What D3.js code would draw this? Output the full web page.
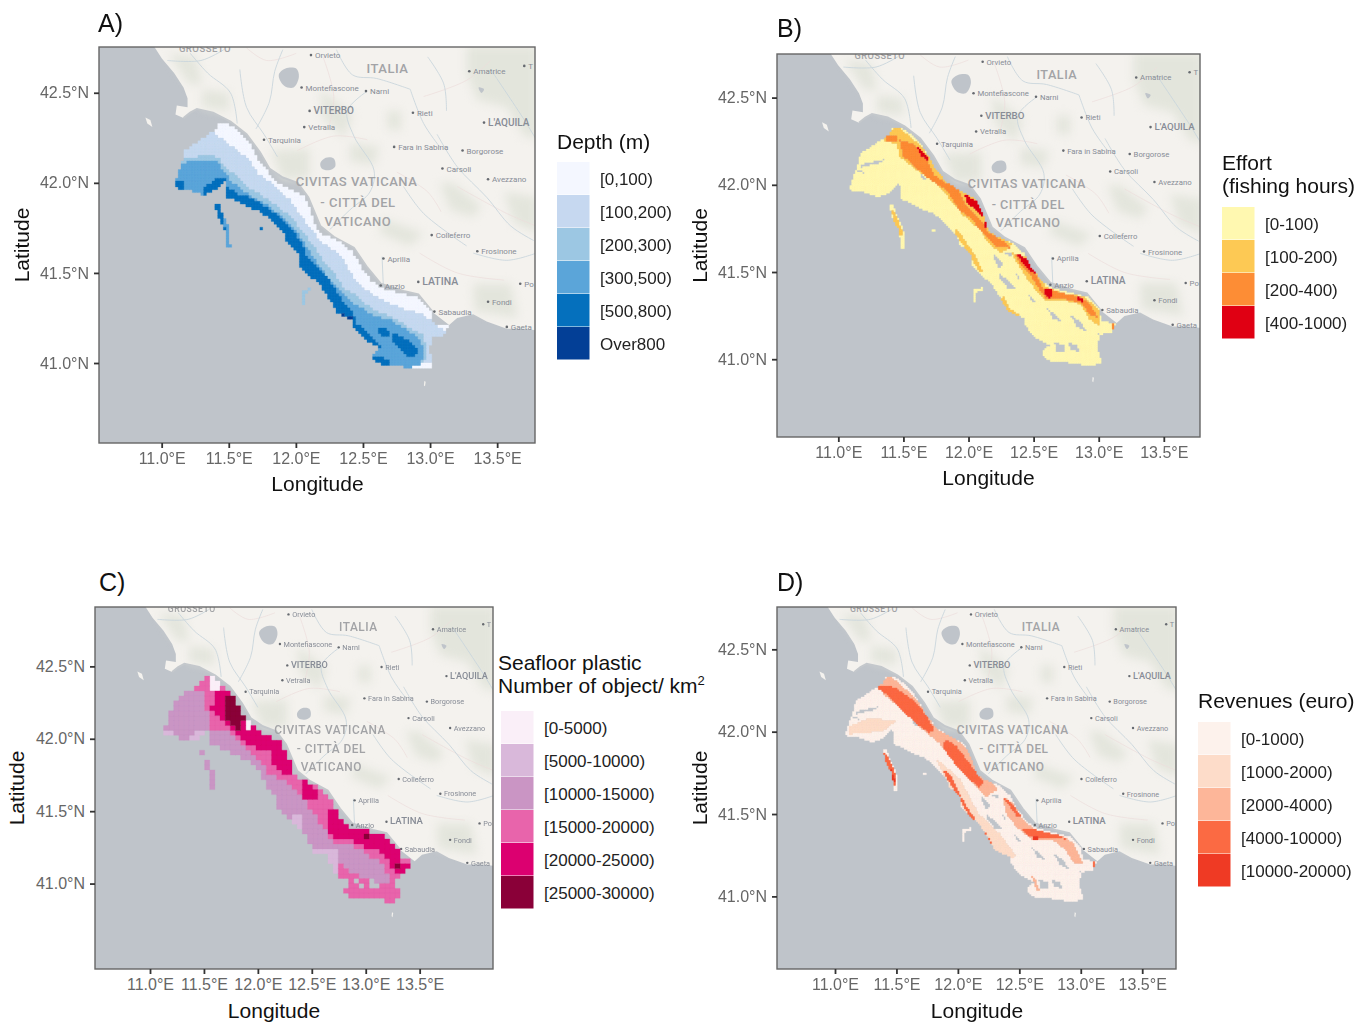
<!DOCTYPE html>
<html>
<head>
<meta charset="utf-8">
<script src="https://d3js.org/d3.v7.min.js"></script>
<style>
html, body { margin: 0; padding: 0; background: #fff; }
svg { display: block; font-family: "Liberation Sans", Arial, sans-serif; }
.tick text { fill: #666; font-size: 16px; }
.tick line { stroke: #333; stroke-width: 1.8; }
.axis-title { font-size: 21px; fill: #111; text-anchor: middle; }
.panel-tag { font-size: 25px; fill: #111; }
.legend-title { font-size: 21px; fill: #111; }
.legend-label { font-size: 17px; fill: #222; }
.map-label { font-family: Roboto, sans-serif; }
</style>
</head>
<body>
<script>

// ---- axis ticks, the same for all four panels
var lonTicks = [11, 11.5, 12, 12.5, 13, 13.5];
var latTicks = [41, 41.5, 42, 42.5];

// ---- legends
var depthLabels = ["[0,100)", "[100,200)", "[200,300)", "[300,500)", "[500,800)", "Over800"];
var depthColors = ["#f4f7ff", "#c6d8f0", "#9cc7e3", "#5ba5d9", "#0570bd", "#033f96"];
var effortLabels = ["[0-100)", "[100-200)", "[200-400)", "[400-1000)"];
var effortColors = ["#fff8b0", "#fdc954", "#fd8d35", "#e00013"];
var plasticLabels = ["[0-5000)", "[5000-10000)", "[10000-15000)", "[15000-20000)", "[20000-25000)", "[25000-30000)"];
var plasticColors = ["#faeff8", "#d9b8da", "#ca95c4", "#e864ab", "#dc0070", "#8a0038"];
var revenueLabels = ["[0-1000)", "[1000-2000)", "[2000-4000)", "[4000-10000)", "[10000-20000)"];
var revenueColors = ["#fdf2ec", "#fddcc9", "#fdb699", "#fb6a43", "#ef3a24"];

// ---- basemap, lon/lat
var mapLon = [10.53, 13.78];
var mapLat = [40.555, 42.755];
var landOutline = [[10.93,42.77],[11.00,42.69],[11.09,42.61],[11.16,42.53],[11.19,42.47],[11.19,42.42],[11.11,42.43],[11.10,42.38],[11.16,42.36],[11.21,42.39],[11.26,42.41],[11.38,42.39],[11.51,42.34],[11.63,42.27],[11.73,42.17],[11.80,42.08],[11.90,42.03],[12.01,42.00],[12.09,41.92],[12.18,41.76],[12.28,41.70],[12.43,41.64],[12.53,41.53],[12.63,41.44],[12.80,41.40],[12.91,41.38],[13.02,41.28],[13.14,41.21],[13.20,41.25],[13.32,41.27],[13.42,41.23],[13.57,41.19],[13.70,41.19],[13.80,41.18],[13.85,41.18],[13.85,42.80],[10.93,42.80]];
var islets = [
  [[10.876,42.363],[10.913,42.349],[10.928,42.31],[10.89,42.33]],
  [[12.955,40.90],[12.965,40.895],[12.96,40.87],[12.952,40.875]]
];
var lakes = [
  [[11.87,42.60],[11.92,42.635],[12.00,42.635],[12.02,42.59],[11.98,42.53],[11.91,42.54]],
  [[12.18,42.11],[12.22,42.14],[12.28,42.136],[12.29,42.09],[12.24,42.07],[12.19,42.08]],
  [[13.36,42.53],[13.40,42.52],[13.38,42.50]]
];
var hills = [
  [[13.27,42.76],[13.80,42.76],[13.80,42.24],[13.70,42.26],[13.57,42.42],[13.35,42.46],[13.27,42.61]],
  [[13.07,42.00],[13.17,42.00],[13.38,41.87],[13.32,41.81],[13.15,41.85]],
  [[11.81,42.18],[12.10,42.19],[12.10,42.03],[11.90,42.02]],
  [[12.65,41.80],[12.95,41.72],[12.85,41.65],[12.62,41.72]],
  [[13.32,41.44],[13.60,41.44],[13.65,41.25],[13.33,41.29]],
  [[12.68,42.40],[12.78,42.40],[12.78,42.29],[12.68,42.30]],
  [[11.05,42.72],[11.25,42.70],[11.30,42.55],[11.20,42.55]],
  [[12.18,42.52],[12.42,42.38],[12.36,42.25],[12.20,42.36]],
  [[11.30,42.52],[11.50,42.50],[11.50,42.40],[11.30,42.42]],
  [[12.40,42.22],[12.62,42.20],[12.58,42.10],[12.40,42.12]],
  [[13.55,41.95],[13.80,41.92],[13.80,41.72],[13.62,41.78]]
];
var rivers = [
  [[12.53,42.51],[12.38,42.40],[12.43,42.26],[12.58,42.07],[12.55,41.95],[12.40,41.85],[12.25,41.74]],
  [[11.58,42.63],[11.63,42.42],[11.76,42.27],[11.86,42.145]],
  [[13.05,42.27],[13.20,42.09],[13.42,41.92],[13.60,41.76],[13.77,41.68]],
  [[13.32,41.61],[13.57,41.57],[13.79,41.61]],
  [[11.21,42.72],[11.34,42.61],[11.51,42.50],[11.56,42.33]],
  [[12.85,42.52],[12.95,42.33],[13.07,42.20]],
  [[11.04,42.68],[11.29,42.68],[11.46,42.74]],
  [[12.64,41.59],[12.65,41.42]],
  [[13.45,42.63],[13.70,42.35],[13.79,42.24]],
  [[12.80,41.98],[12.95,41.83],[13.27,41.65]],
  [[12.30,42.74],[12.42,42.60],[12.60,42.58],[12.85,42.52]],
  [[11.90,42.74],[11.84,42.62],[11.80,42.45],[11.70,42.30]],
  [[12.98,42.70],[13.10,42.55],[13.12,42.40]]
];
var roads = [
  [[11.63,42.75],[11.78,42.68],[12.00,42.72]],
  [[12.01,42.18],[12.28,42.26],[12.53,42.24]],
  [[13.20,41.98],[13.57,41.83],[13.79,41.76]],
  [[12.95,42.48],[13.27,42.57],[13.45,42.68]],
  [[12.92,41.61],[13.20,41.50],[13.55,41.46]],
  [[12.20,42.70],[12.28,42.48],[12.24,42.30]],
  [[12.75,42.06],[12.98,41.95],[13.08,41.84]]
];
var townNames = ["Orvieto","Montefiascone","Narni","VITERBO","Vetralla","Rieti","Amatrice","T","L'AQUILA","Tarquinia","Fara in Sabina","Borgorose","Carsoli","Avezzano","Colleferro","Frosinone","Aprilia","LATINA","Po","Anzio","Fondi","Sabaudia","Gaeta"];
var townLon = [12.11,12.04,12.52,12.10,12.06,12.87,13.29,13.70,13.40,11.76,12.73,13.24,13.09,13.43,13.01,13.35,12.65,12.91,13.67,12.63,13.43,13.03,13.57];
var townLat = [42.71,42.53,42.51,42.40,42.31,42.39,42.62,42.65,42.335,42.24,42.20,42.18,42.08,42.02,41.71,41.62,41.58,41.45,41.44,41.43,41.34,41.285,41.20];
var townPt = [8,8,8,10,8,8,8,8,10,8,8,8,8,8,8,8,8,10.5,8,8,8,8,8];
var areaNames = ["GROSSETO","ITALIA","CIVITAS VATICANA","- CITTÀ DEL","VATICANO"];
var areaLon = [11.32,12.68,12.45,12.46,12.46];
var areaLat = [42.75,42.635,42.01,41.89,41.785];
var areaPt = [9.5,13,13,13,13];

// ---- fished area, shared by all the maps
var regionMain = [[11.422,42.33],[11.484,42.33],[11.559,42.293],[11.633,42.238],[11.683,42.182],[11.733,42.108],[11.77,42.08],[11.82,42.025],[11.932,41.969],[12.056,41.923],[12.105,41.849],[12.155,41.738],[12.205,41.71],[12.329,41.673],[12.428,41.608],[12.478,41.535],[12.553,41.46],[12.627,41.414],[12.776,41.386],[12.913,41.359],[13.0,41.294],[13.025,41.22],[13.129,41.205],[13.099,41.155],[13.025,41.146],[12.987,41.081],[13.025,40.979],[12.95,40.965],[12.876,40.97],[12.702,40.989],[12.652,40.983],[12.577,41.017],[12.577,41.053],[12.627,41.081],[12.528,41.118],[12.428,41.202],[12.428,41.238],[12.304,41.276],[12.254,41.349],[12.18,41.433],[12.081,41.498],[12.031,41.535],[12.019,41.609],[11.932,41.664],[11.907,41.72],[11.783,41.812],[11.733,41.84],[11.633,41.868],[11.484,41.923],[11.472,42.016],[11.397,41.96],[11.311,41.932],[11.211,41.96],[11.174,41.966],[11.087,41.973],[11.099,42.006],[11.124,42.062],[11.149,42.117],[11.174,42.182],[11.286,42.238],[11.397,42.293]];
var seamount = [[11.39,41.89],[11.42,41.886],[11.46,41.81],[11.50,41.755],[11.51,41.64],[11.48,41.64],[11.47,41.74],[11.42,41.81]];
var seamountDot = [[11.72,41.75],[11.75,41.75],[11.75,41.734],[11.72,41.734]];
var hookBank = [[12.04,41.405],[12.12,41.414],[12.11,41.40],[12.06,41.386],[12.06,41.327],[12.04,41.327]];
var regionParts = [regionMain, seamount, seamountDot, hookBank];
var gaps = [
  [[11.17,42.12],[11.35,42.15],[11.33,42.13],[11.17,42.10]],
  [[12.19,41.61],[12.27,41.55],[12.24,41.52],[12.19,41.58]],
  [[12.24,41.49],[12.32,41.45],[12.38,41.40],[12.30,41.41],[12.24,41.47]],
  [[12.60,41.30],[12.68,41.25],[12.73,41.21],[12.65,41.235]],
  [[12.78,41.26],[12.86,41.22],[12.91,41.16],[12.83,41.19]],
  [[12.66,41.10],[12.75,41.08],[12.73,41.04],[12.68,41.04]],
  [[12.77,41.10],[12.84,41.08],[12.86,41.04],[12.78,41.06]],
  [[11.63,42.07],[11.68,42.04],[11.65,42.03]],
  [[12.27,41.61],[12.34,41.62],[12.33,41.59]],
  [[12.99,41.15],[13.06,41.14],[13.04,41.10]],
  [[11.14,42.09],[11.20,42.08],[11.20,42.07],[11.14,42.075]],
  [[12.36,41.50],[12.40,41.47],[12.38,41.46]],
  [[12.46,41.38],[12.52,41.33],[12.49,41.33]]
];

// ---- A) depth lines, everything on the sea side of each one is deeper
var iso100 = [[11.31,42.32],[11.36,42.29],[11.42,42.26],[11.48,42.22],[11.56,42.18],[11.66,42.12],[11.71,42.05],[11.81,42.00],[11.96,41.90],[12.02,41.83],[12.11,41.74],[12.20,41.66],[12.32,41.61],[12.38,41.53],[12.45,41.45],[12.58,41.37],[12.70,41.33],[12.83,41.29],[12.95,41.27],[13.02,41.22],[13.15,41.16]];
var iso200 = [[11.11,42.11],[11.17,42.13],[11.29,42.15],[11.41,42.145],[11.48,42.08],[11.56,42.04],[11.63,41.98],[11.76,41.92],[11.86,41.87],[11.96,41.81],[12.03,41.74],[12.13,41.65],[12.20,41.57],[12.28,41.50],[12.35,41.42],[12.45,41.37],[12.58,41.29],[12.70,41.26],[12.83,41.20],[12.95,41.15],[12.97,41.07],[12.95,40.99],[12.92,40.92]];
var iso300 = [[11.10,42.08],[11.21,42.12],[11.31,42.13],[11.41,42.12],[11.47,42.05],[11.53,42.00],[11.63,41.94],[11.76,41.89],[11.86,41.83],[11.96,41.77],[12.03,41.70],[12.11,41.61],[12.18,41.53],[12.25,41.46],[12.35,41.39],[12.43,41.33],[12.58,41.26],[12.70,41.24],[12.83,41.18],[12.93,41.13],[12.95,41.05],[12.93,41.01],[12.88,40.94]];
var deepWest = [[11.09,42.01],[11.17,42.01],[11.17,41.96],[11.09,41.96]];
var deepGulf = [[11.30,41.97],[11.36,42.00],[11.41,42.03],[11.48,42.03],[11.48,41.98],[11.46,41.95],[11.31,41.92]];
var deepSlope = [[11.48,41.98],[11.56,41.94],[11.66,41.92],[11.78,41.86],[11.88,41.81],[11.96,41.75],[12.03,41.68],[12.08,41.59],[12.15,41.53],[12.25,41.46],[12.32,41.37],[12.43,41.27],[12.45,41.22],[12.55,41.15],[12.63,41.10],[12.60,41.06],[12.50,41.10],[12.38,41.24],[12.25,41.31],[12.18,41.41],[12.01,41.52],[11.98,41.61],[11.88,41.70],[11.76,41.79],[11.63,41.85],[11.46,41.90]];
var deepPatch1 = [[12.61,41.19],[12.68,41.20],[12.69,41.15],[12.63,41.15]];
var deepPatch2 = [[12.71,41.17],[12.78,41.15],[12.85,41.12],[12.90,41.07],[12.89,41.04],[12.83,41.04],[12.76,41.08],[12.71,41.13]];
var deepPatch3 = [[12.58,41.04],[12.63,41.03],[12.69,41.02],[12.69,40.98],[12.63,40.98],[12.56,41.01]];
var deepest = [[12.34,41.27],[12.42,41.25],[12.42,41.23],[12.34,41.24]];
var shoalTip = [[12.87,40.99],[13.03,41.00],[13.03,40.95],[12.87,40.95]];
var seamountTop = [[11.39,41.89],[11.42,41.886],[11.46,41.81],[11.47,41.74],[11.45,41.74],[11.42,41.81]];

// ---- B) effort patches
var effortBelt1 = [[11.35,42.26],[11.45,42.34],[11.50,42.31],[11.63,42.23],[11.74,42.12],[11.82,42.03],[11.91,42.01],[12.01,41.95],[12.13,41.86],[12.15,41.76],[12.22,41.71],[12.34,41.66],[12.25,41.61],[12.14,41.68],[12.10,41.74],[11.96,41.83],[11.86,41.92],[11.76,42.01],[11.60,42.09],[11.47,42.17],[11.45,42.24]];
var effortBelt2 = [[12.34,41.61],[12.45,41.59],[12.54,41.51],[12.59,41.42],[12.73,41.38],[12.89,41.36],[13.01,41.28],[13.01,41.19],[12.93,41.235],[12.86,41.32],[12.73,41.34],[12.60,41.34],[12.52,41.40],[12.45,41.47],[12.37,41.56]];
var effortEdge1 = [[11.90,41.75],[11.94,41.72],[12.04,41.61],[12.11,41.51],[12.08,41.51],[11.99,41.63],[11.90,41.72]];
var effortEdge2 = [[12.27,41.36],[12.32,41.29],[12.41,41.25],[12.40,41.23],[12.31,41.25],[12.25,41.34]];
var effortSeamount = [[11.40,41.885],[11.45,41.82],[11.50,41.72],[11.48,41.70],[11.43,41.80]];
var effortHigh1 = [[11.37,42.28],[11.46,42.29],[11.46,42.25],[11.37,42.25]];
var effortHigh2 = [[11.47,42.26],[11.58,42.24],[11.68,42.16],[11.71,42.10],[11.74,42.06],[11.83,42.01],[11.91,42.00],[11.95,41.93],[11.99,41.875],[12.11,41.79],[12.15,41.73],[12.27,41.68],[12.33,41.64],[12.22,41.65],[12.11,41.73],[12.01,41.82],[11.93,41.86],[11.83,41.98],[11.73,42.02],[11.60,42.10],[11.50,42.17]];
var effortHigh3 = [[12.36,41.61],[12.47,41.55],[12.52,41.49],[12.57,41.41],[12.73,41.38],[12.86,41.36],[12.93,41.32],[13.00,41.24],[12.93,41.26],[12.88,41.32],[12.73,41.35],[12.60,41.35],[12.55,41.40],[12.49,41.47],[12.40,41.55]];
var effortHigh4 = [[13.10,41.21],[13.13,41.21],[13.11,41.17]];
var effortTop1 = [[11.61,42.22],[11.68,42.17],[11.70,42.14],[11.64,42.17]];
var effortTop2 = [[11.97,41.95],[12.06,41.91],[12.12,41.86],[12.11,41.82],[12.04,41.87],[11.99,41.90]];
var effortTop3 = [[12.13,41.82],[12.16,41.80],[12.14,41.75],[12.12,41.77]];
var effortTop4 = [[12.37,41.61],[12.43,41.585],[12.53,41.51],[12.51,41.49],[12.42,41.55]];
var effortTop5 = [[12.58,41.41],[12.65,41.40],[12.63,41.35],[12.59,41.37]];
var effortTop6 = [[12.84,41.36],[12.89,41.34],[12.88,41.33],[12.84,41.34]];

// ---- C) plastic patches
var plasticLow1 = [[11.07,42.00],[11.19,42.00],[11.19,41.95],[11.07,41.95]];
var plasticLow2 = [[11.28,41.98],[11.44,42.00],[11.44,41.96],[11.36,41.92],[11.28,41.92]];
var plasticLow3 = [[12.12,41.50],[12.23,41.50],[12.23,41.41],[12.15,41.42]];
var plasticLow4 = [[12.27,41.28],[12.50,41.28],[12.50,41.13],[12.39,41.20]];
var plasticMid = [[11.43,42.27],[11.43,42.15],[11.48,42.08],[11.48,42.02],[11.63,42.01],[11.76,41.91],[11.85,41.83],[11.96,41.74],[12.10,41.68],[12.23,41.60],[12.29,41.52],[12.39,41.42],[12.50,41.31],[12.64,41.30],[12.75,41.26],[12.86,41.20],[12.94,41.12],[12.94,41.07],[12.61,41.13],[12.52,41.20],[12.50,41.14],[12.59,41.06],[12.54,41.00],[12.67,40.96],[12.91,40.92],[13.05,40.94],[13.09,41.07],[13.17,41.20],[12.99,41.38],[12.39,41.70],[11.77,42.11],[11.50,42.35]];
var plasticMidTop = [[11.28,42.25],[11.28,42.26],[11.43,42.30],[11.43,42.35],[11.50,42.35],[11.50,42.25]];
var plasticHighA = [[11.51,42.25],[11.60,42.25],[11.66,42.21],[11.70,42.15],[11.75,42.09],[11.75,42.03],[11.90,42.01],[12.01,41.95],[12.10,41.91],[12.15,41.80],[12.16,41.75],[12.04,41.75],[11.97,41.80],[11.96,41.87],[11.85,41.89],[11.77,41.93],[11.69,41.99],[11.63,42.02],[11.59,42.07],[11.51,42.09],[11.48,42.15],[11.51,42.19]];
var plasticHighB = [[12.23,41.70],[12.30,41.68],[12.35,41.60],[12.23,41.60]];
var plasticHighC = [[12.43,41.54],[12.52,41.52],[12.59,41.43],[12.67,41.42],[12.80,41.38],[12.94,41.355],[13.01,41.28],[13.03,41.21],[13.13,41.20],[13.10,41.15],[13.02,41.14],[12.94,41.16],[12.91,41.24],[12.83,41.28],[12.72,41.30],[12.64,41.34],[12.50,41.35],[12.43,41.40]];
var plasticHighD = [[13.02,41.08],[13.05,41.07],[13.05,40.99],[13.01,40.99]];
var plasticPeakA = [[11.59,42.22],[11.66,42.21],[11.70,42.14],[11.75,42.08],[11.71,42.02],[11.67,42.02],[11.65,42.06],[11.59,42.09]];
var plasticPeakB = [[12.73,41.365],[12.76,41.365],[12.76,41.34],[12.73,41.34]];
var plasticPeakC = [[12.84,41.335],[12.87,41.335],[12.87,41.305],[12.84,41.305]];
var plasticPeakD = [[12.98,41.20],[13.01,41.20],[13.01,41.165],[12.98,41.165]];
var plasticPeakE = [[13.01,41.035],[13.03,41.035],[13.03,40.995],[13.01,40.995]];
var plasticClean1 = [[11.48,42.33],[11.56,42.33],[11.56,42.25],[11.48,42.25]];
var plasticClean2 = [[11.75,42.06],[11.82,42.06],[11.82,42.02],[11.75,42.02]];

// ---- D) revenue patches
var revenueWest = [[11.12,42.03],[11.28,42.08],[11.50,42.06],[11.39,42.00],[11.23,41.99],[11.11,41.98]];
var revenueEdge = [[11.83,41.83],[12.02,41.71],[12.17,41.50],[12.34,41.38],[12.48,41.24],[12.37,41.20],[12.26,41.30],[12.10,41.48],[11.94,41.65]];
var revenueBelt1 = [[11.34,42.28],[11.45,42.34],[11.52,42.29],[11.66,42.20],[11.75,42.10],[11.83,42.01],[11.99,41.95],[12.10,41.87],[12.13,41.81],[12.21,41.73],[12.33,41.65],[12.23,41.60],[12.15,41.67],[12.02,41.77],[11.85,41.93],[11.72,42.01],[11.56,42.13],[11.42,42.21]];
var revenueBelt2 = [[12.37,41.60],[12.45,41.565],[12.53,41.46],[12.64,41.40],[12.86,41.36],[12.94,41.32],[13.02,41.20],[12.95,41.20],[12.88,41.28],[12.78,41.34],[12.61,41.34],[12.48,41.42],[12.40,41.50]];
var revenueLine = [[12.60,41.12],[12.63,41.11],[12.67,41.03],[12.65,41.03]];
var revenueHighN1 = [[11.34,42.27],[11.43,42.28],[11.50,42.26],[11.62,42.20],[11.69,42.15],[11.75,42.09],[11.81,42.01],[11.77,41.99],[11.66,42.05],[11.56,42.12],[11.43,42.22]];
var revenueHighN2 = [[11.91,41.95],[11.99,41.91],[12.07,41.83],[12.13,41.77],[12.21,41.69],[12.17,41.66],[12.07,41.73],[11.95,41.83],[11.88,41.91]];
var revenueHighS1 = [[11.88,41.77],[11.95,41.73],[12.03,41.60],[12.11,41.50],[12.17,41.44],[12.26,41.35],[12.31,41.27],[12.42,41.24],[12.40,41.22],[12.30,41.26],[12.23,41.34],[12.15,41.42],[12.07,41.52],[11.99,41.625],[11.90,41.73]];
var revenueHighS2 = [[12.37,41.60],[12.44,41.565],[12.52,41.48],[12.49,41.48],[12.41,41.56]];
var revenueHighS3 = [[12.53,41.41],[12.64,41.40],[12.83,41.365],[12.90,41.34],[12.83,41.35],[12.64,41.35],[12.56,41.37]];
var revenueSeamount = [[11.39,41.885],[11.43,41.85],[11.50,41.73],[11.50,41.64],[11.47,41.71],[11.42,41.81]];
var revenueTip = [[13.10,41.21],[13.12,41.21],[13.12,41.18],[13.10,41.18]];
var revenueTop1 = [[12.61,41.36],[12.66,41.36],[12.66,41.34],[12.61,41.34]];
var revenueTop2 = [[11.46,41.765],[11.50,41.69],[11.48,41.69],[11.45,41.765]];

function seaward(line) {
    var closed = line.slice();
    closed.push([13.9, line[line.length - 1][1] - 0.3], [13.9, 40.4], [10.4, 40.4], [10.4, line[0][1]]);
    return closed;
}

// each panel paints its classes in this order, the last hit wins
var depthLayers = [
    [1, seaward(iso100)], [2, seaward(iso200)], [3, seaward(iso300)],
    [4, deepWest], [4, deepGulf], [4, deepSlope], [4, deepPatch1], [4, deepPatch2], [4, deepPatch3],
    [5, deepest], [4, seamountTop], [4, seamountDot], [2, hookBank], [0, shoalTip]
];
var effortLayers = [
    [1, effortBelt1], [1, effortBelt2], [1, effortEdge1], [1, effortEdge2], [1, effortSeamount],
    [2, effortHigh1], [2, effortHigh2], [2, effortHigh3], [2, effortHigh4],
    [3, effortTop1], [3, effortTop2], [3, effortTop3], [3, effortTop4], [3, effortTop5], [3, effortTop6]
];
var plasticLayers = [
    [2, regionMain], [1, plasticLow1], [1, plasticLow2], [1, plasticLow3], [1, plasticLow4],
    [3, plasticMid], [3, plasticMidTop], [2, seamount], [1, hookBank],
    [4, plasticHighA], [4, plasticHighB], [4, plasticHighC], [4, plasticHighD],
    [5, plasticPeakA], [5, plasticPeakB], [5, plasticPeakC], [5, plasticPeakD], [5, plasticPeakE],
    [0, plasticClean1], [0, plasticClean2]
];
var revenueLayers = [
    [1, revenueWest], [1, revenueEdge], [2, revenueBelt1], [2, revenueBelt2], [2, revenueLine],
    [3, revenueHighN1], [3, revenueHighN2], [3, revenueHighS1], [3, revenueHighS2], [3, revenueHighS3],
    [3, revenueSeamount], [3, revenueTip], [4, revenueTop1], [4, revenueTop2]
];

var panels = [
    {tag: "A)", tagX: 98, tagY: 32, left: 99, right: 535, top: 47, bottom: 443,
     lon: [10.533, 13.782], lat: [40.556, 42.754], latX: 22, lonX: 317.5, lonY: 491,
     stepX: 0.021, stepY: 0.016, colors: depthColors, labels: depthLabels, layers: depthLayers, holes: [],
     title: ["Depth (m)"], titleX: 557, titleY: 149, keyX: 557, keyY: 162, labelX: 600},
    {tag: "B)", tagX: 777, tagY: 37, left: 777, right: 1200, top: 54, bottom: 437,
     lon: [10.529, 13.778], lat: [40.554, 42.75], latX: 700, lonX: 988.5, lonY: 485,
     stepX: 0.014, stepY: 0.011, colors: effortColors, labels: effortLabels, layers: effortLayers, holes: gaps,
     title: ["Effort", "(fishing hours)"], titleX: 1222, titleY: 170, keyX: 1222, keyY: 207, labelX: 1265},
    {tag: "C)", tagX: 99, tagY: 591, left: 95, right: 493, top: 607, bottom: 969,
     lon: [10.49, 14.18], lat: [40.41, 42.91], latX: 17, lonX: 274, lonY: 1018,
     stepX: 0.042, stepY: 0.03, colors: plasticColors, labels: plasticLabels, layers: plasticLayers, holes: gaps.slice(5, 7),
     title: ["Seafloor plastic", "Number of object/ km"], titleX: 498, titleY: 670, keyX: 501, keyY: 711, labelX: 544},
    {tag: "D)", tagX: 777, tagY: 591, left: 777, right: 1176, top: 607, bottom: 969,
     lon: [10.528, 13.775], lat: [40.559, 42.757], latX: 700, lonX: 977, lonY: 1018,
     stepX: 0.014, stepY: 0.011, colors: revenueColors, labels: revenueLabels, layers: revenueLayers, holes: gaps,
     title: ["Revenues (euro)"], titleX: 1198, titleY: 708, keyX: 1198, keyY: 722, labelX: 1241}
];

var svg = d3.select("body").append("svg")
    .attr("width", 1368)
    .attr("height", 1023);

var defs = svg.append("defs");
var keySize = 33;

panels.forEach(function(p, i) {
    var w = p.right - p.left,
        h = p.bottom - p.top,
        k = w / 436;

    // the basemap and the raster are stretched to the frame, the axes have their own scale
    var mx = d3.scaleLinear().domain(mapLon).range([p.left, p.right]);
    var my = d3.scaleLinear().domain(mapLat).range([p.bottom, p.top]);
    var xScale = d3.scaleLinear().domain(p.lon).range([p.left, p.right]);
    var yScale = d3.scaleLinear().domain(p.lat).range([p.bottom, p.top]);

    var line = d3.line().x(function(d) { return mx(d[0]) }).y(function(d) { return my(d[1]) });
    var wavy = d3.line().curve(d3.curveCatmullRom).x(function(d) { return mx(d[0]) }).y(function(d) { return my(d[1]) });
    var shape = function(d) { return line(d) + "Z" };

    defs.append("clipPath").attr("id", "frame" + i)
      .append("rect").attr("x", p.left).attr("y", p.top).attr("width", w).attr("height", h);

    var soft = svg.append("g").style("filter", "blur(0.55px)");
    var map = soft.append("g").attr("clip-path", "url(#frame" + i + ")");

    map.append("rect").attr("x", p.left).attr("y", p.top).attr("width", w).attr("height", h).attr("fill", "#bfc4ca");
    map.append("path").attr("d", shape(landOutline)).attr("fill", "#f4f2ee");
    map.selectAll(".islet").data(islets).enter().append("path").attr("d", shape).attr("fill", "#f4f2ee");
    map.append("g").style("filter", "blur(5px)")
      .selectAll("path").data(hills).enter().append("path").attr("d", shape).attr("fill", "#e3e5dc");
    map.selectAll(".road").data(roads).enter().append("path").attr("d", wavy)
        .attr("fill", "none").attr("stroke", "#ecdcdb").attr("stroke-width", 0.7);
    map.selectAll(".river").data(rivers).enter().append("path").attr("d", wavy)
        .attr("fill", "none").attr("stroke", "#c9d6dc").attr("stroke-width", 0.9);
    map.selectAll(".lake").data(lakes).enter().append("path")
        .attr("d", d3.line().curve(d3.curveCatmullRomClosed).x(function(d) { return mx(d[0]) }).y(function(d) { return my(d[1]) }))
        .attr("fill", "#bfc4ca");

    // sea again over the blurred hills, grey coast strip next to the raster
    map.append("path").attr("d", line(landOutline.slice(8, 27)))
        .attr("fill", "none").attr("stroke", "#c4c8cc").attr("stroke-width", 2);

    townNames.forEach(function(name, j) {
        map.append("circle").attr("cx", mx(townLon[j])).attr("cy", my(townLat[j])).attr("r", 1.3 * k).attr("fill", "#666a70");
        map.append("text").attr("class", "map-label")
            .attr("x", mx(townLon[j]) + 4 * k).attr("y", my(townLat[j]) + 3 * k)
            .style("font-size", townPt[j] * k + "px").attr("fill", "#878c96")
            .attr("font-weight", townPt[j] > 8 ? 500 : 400)
            .text(name);
    });
    areaNames.forEach(function(name, j) {
        map.append("text").attr("class", "map-label")
            .attr("x", mx(areaLon[j])).attr("y", my(areaLat[j]) + 4.5 * k)
            .attr("text-anchor", "middle")
            .style("font-size", areaPt[j] * k + "px").style("letter-spacing", "0.5px")
            .attr("font-weight", 500).attr("fill", "#a2a3a6")
            .text(name);
    });

    // raster cells, class
    var paths = p.colors.map(function() { return "" });
    d3.range(10.9, 13.3, p.stepX).forEach(function(lon) {
        d3.range(40.85, 42.4, p.stepY).forEach(function(lat) {
            var pt = [lon, lat];
            if (!regionParts.some(function(r) { return d3.polygonContains(r, pt) })) return;
            if (p.holes.some(function(r) { return d3.polygonContains(r, pt) })) return;
            var cls = 0;
            p.layers.forEach(function(l) {
                if (d3.polygonContains(l[1], pt)) cls = l[0];
            });
            var x0 = mx(lon - p.stepX / 2), x1 = mx(lon + p.stepX / 2),
                y0 = my(lat + p.stepY / 2), y1 = my(lat - p.stepY / 2);
            paths[cls] += "M" + x0.toFixed(1) + "," + y0.toFixed(1) + "H" + x1.toFixed(1) + "V" + y1.toFixed(1) + "H" + x0.toFixed(1) + "Z";
        });
    });
    map.selectAll(".cells").data(paths).enter().append("path")
        .attr("d", function(d) { return d })
        .attr("fill", function(d, c) { return p.colors[c] })
        .attr("stroke", function(d, c) { return p.colors[c] })
        .attr("stroke-width", 0.3);

    // frame and axes
    svg.append("rect").attr("x", p.left).attr("y", p.top).attr("width", w).attr("height", h)
        .attr("fill", "none").attr("stroke", "#666").attr("stroke-width", 1.4);

    var xAxis = d3.axisBottom(xScale).tickValues(lonTicks).tickSize(5).tickPadding(5)
        .tickFormat(function(d) { return d.toFixed(1) + "°E" });
    var yAxis = d3.axisLeft(yScale).tickValues(latTicks).tickSize(5).tickPadding(5)
        .tickFormat(function(d) { return d.toFixed(1) + "°N" });

    var gx = svg.append("g").attr("transform", "translate(0," + p.bottom + ")").call(xAxis);
    var gy = svg.append("g").attr("transform", "translate(" + p.left + ",0)").call(yAxis);
    gx.select(".domain").remove();
    gy.select(".domain").remove();
    gx.attr("font-family", null).attr("font-size", null);
    gy.attr("font-family", null).attr("font-size", null);

    svg.append("text").attr("class", "axis-title")
        .attr("x", p.lonX).attr("y", p.lonY).text("Longitude");
    svg.append("text").attr("class", "axis-title")
        .attr("transform", "translate(" + (p.latX + 7) + "," + (p.top + p.bottom) / 2 + ") rotate(-90)")
        .text("Latitude");
    svg.append("text").attr("class", "panel-tag").attr("x", p.tagX).attr("y", p.tagY).text(p.tag);

    // legend
    p.title.forEach(function(t, j) {
        var tt = svg.append("text").attr("class", "legend-title")
            .attr("x", p.titleX).attr("y", p.titleY + j * 23).text(t);
        if (t.slice(-2) == "km") tt.append("tspan").attr("dy", -8).style("font-size", "13px").text("2");
    });
    var keys = soft.append("g");
    keys.selectAll("rect").data(p.colors).enter().append("rect")
        .attr("x", p.keyX)
        .attr("y", function(d, j) { return p.keyY + j * keySize })
        .attr("width", keySize - 0.5)
        .attr("height", keySize - 0.5)
        .attr("fill", function(d) { return d });
    svg.selectAll(".leg" + i).data(p.labels).enter().append("text")
        .attr("class", "legend-label")
        .attr("x", p.labelX)
        .attr("y", function(d, j) { return p.keyY + j * keySize + keySize / 2 + 6 })
        .text(function(d) { return d });
});

</script>
</body>
</html>
